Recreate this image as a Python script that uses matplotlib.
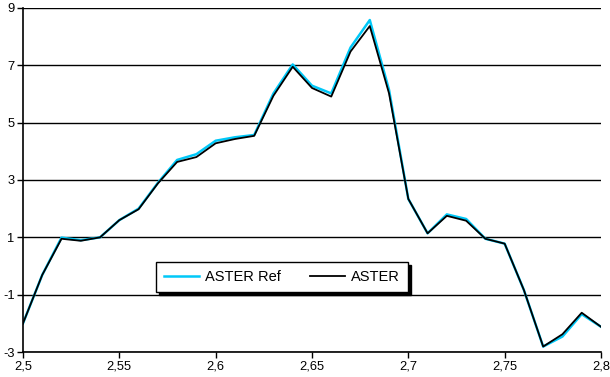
import matplotlib
matplotlib.use('Agg')
import matplotlib.pyplot as plt
from matplotlib.ticker import FuncFormatter, MultipleLocator

x = [2.50, 2.51, 2.52, 2.53, 2.54, 2.55, 2.56, 2.57, 2.58, 2.59,
     2.60, 2.61, 2.62, 2.63, 2.64, 2.65, 2.66, 2.67, 2.68, 2.69,
     2.70, 2.71, 2.72, 2.73, 2.74, 2.75, 2.76, 2.77, 2.78, 2.79, 2.80]
aster_ref = [-2.0, -0.31, 0.99, 0.9, 1.0, 1.6, 2.0, 2.9, 3.7, 3.9,
             4.37, 4.49, 4.57, 6.02, 7.03, 6.29, 6.02, 7.62, 8.58, 6.14,
             2.34, 1.14, 1.8, 1.64, 0.95, 0.78, -0.84, -2.81, -2.46, -1.68, -2.12]
aster = [-2.0, -0.31, 0.95, 0.88, 1.0, 1.6, 1.98, 2.88, 3.63, 3.8,
         4.28, 4.43, 4.54, 5.94, 6.95, 6.21, 5.91, 7.48, 8.37, 6.02,
         2.34, 1.14, 1.75, 1.58, 0.95, 0.78, -0.84, -2.81, -2.38, -1.63, -2.12]

plt.rcParams['font.family'] = ['Liberation Sans', 'DejaVu Sans']

fig = plt.figure(figsize=(6.1, 3.77), dpi=100)
ax = fig.add_axes([0.0377, 0.0663, 0.9475, 0.9125])

ax.plot(x, aster_ref, color='#00C8F8', lw=1.8, label='ASTER Ref')
ax.plot(x, aster, color='black', lw=1.3, label='ASTER')

ax.set_xlim(2.5, 2.8)
ax.set_ylim(-3, 9)
ax.xaxis.set_major_locator(MultipleLocator(0.05))
ax.set_yticks([-3, -1, 1, 3, 5, 7, 9])
ax.xaxis.set_major_formatter(FuncFormatter(lambda v, p: f'{v:.2f}'.rstrip('0').replace('.', ',')))
ax.yaxis.set_major_formatter(FuncFormatter(lambda v, p: f'{v:g}'))
ax.grid(axis='y', color='black', lw=1)
ax.set_axisbelow(True)
for s in ['top', 'right']:
    ax.spines[s].set_visible(False)
ax.spines['left'].set_linewidth(1.2)
ax.spines['bottom'].set_linewidth(1.2)
ax.tick_params(labelsize=9.3, length=4, width=1, direction='out', pad=2)

leg = ax.legend(loc='center', bbox_to_anchor=(0.448, 0.218), ncol=2, fontsize=10.5,
                frameon=True, fancybox=False, shadow={'color': 'black', 'alpha': 1},
                handlelength=2.4, handletextpad=0.4, columnspacing=2.0, borderpad=0.55)
leg.get_frame().set_edgecolor('black')
leg.get_frame().set_linewidth(1)
leg.get_frame().set_alpha(1)

fig.savefig('out.png', dpi=100)
